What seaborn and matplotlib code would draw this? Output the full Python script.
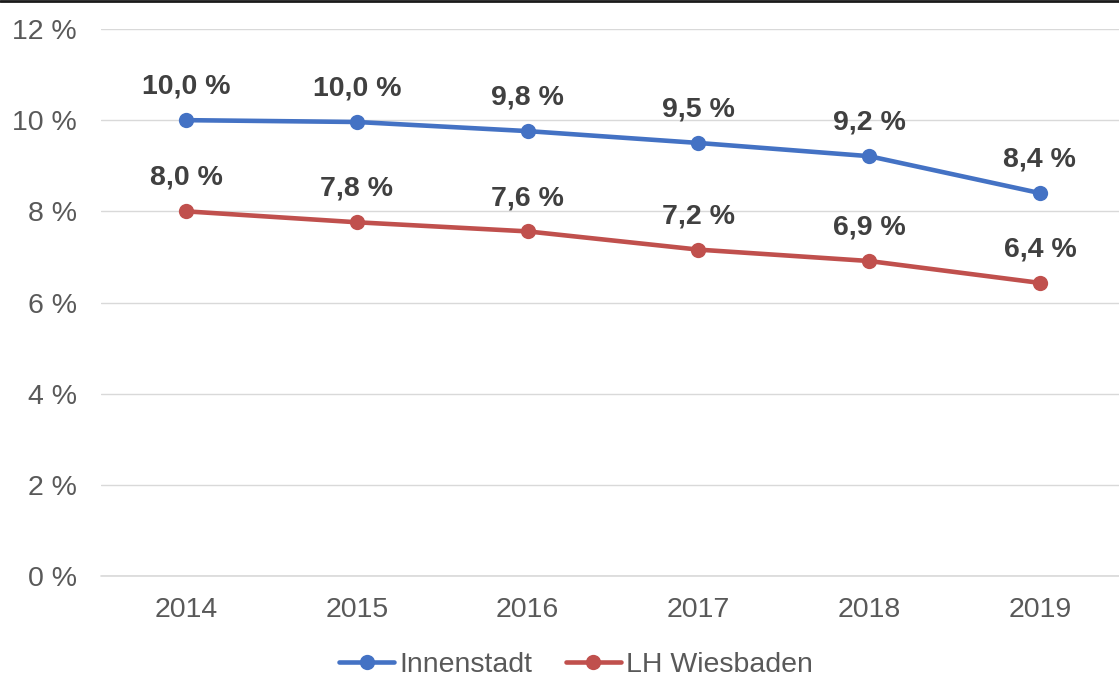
import pandas as pd
import seaborn as sns
import matplotlib.pyplot as plt
from matplotlib.lines import Line2D

# Data
years = ["2014", "2015", "2016", "2017", "2018", "2019"]
innenstadt = [10.0, 9.96, 9.76, 9.5, 9.21, 8.4]
wiesbaden = [8.0, 7.76, 7.56, 7.16, 6.91, 6.43]
series_names = ["Innenstadt", "LH Wiesbaden"]
y_ticks = [0, 2, 4, 6, 8, 10, 12]

df = pd.DataFrame({
    "Jahr": years * 2,
    "Wert": innenstadt + wiesbaden,
    "Serie": [series_names[0]] * len(years) + [series_names[1]] * len(years),
})

sns.set_theme(style="white")
plt.rcParams['font.family'] = ['Liberation Sans', 'DejaVu Sans']

colors = {"Innenstadt": "#4472C4", "LH Wiesbaden": "#C0504D"}

fig = plt.figure(figsize=(11.19, 6.82), dpi=100)
ax = fig.add_axes([0.0899, 0.1554, 0.9101, 0.8021])

sns.lineplot(data=df, x="Jahr", y="Wert", hue="Serie", palette=colors,
             marker="o", markersize=11, markeredgewidth=0, linewidth=3.3,
             ax=ax, legend=False)

# data labels
for name, vals in zip(series_names, [innenstadt, wiesbaden]):
    for i, v in enumerate(vals):
        ax.annotate(f"{v:.1f} %".replace(".", ","), (i, v),
                    xytext=(0, 24), textcoords="offset points",
                    ha="center", va="center", fontsize=20.5,
                    fontweight="bold", color="#404040")

ax.set_xlim(-0.5, 5.463)
ax.set_ylim(0, 12)
ax.set_yticks(y_ticks)
ax.set_yticklabels([f"{t} %" for t in y_ticks])
ax.grid(axis="y", color="#d9d9d9", linewidth=1)
ax.axhline(0, color="#d9d9d9", linewidth=1.2, clip_on=False, zorder=0)
ax.set_axisbelow(True)
for s in ax.spines.values():
    s.set_visible(False)
ax.tick_params(axis="both", length=0, labelsize=20.5, labelcolor="#595959")
ax.tick_params(axis="y", pad=17)
ax.tick_params(axis="x", pad=15)
ax.set_xlabel("")
ax.set_ylabel("")

handles = [Line2D([0], [0], color=colors[n], linewidth=3.3, marker="o",
                  markersize=11, markeredgewidth=0) for n in series_names]
fig.legend(handles, series_names, loc="center", bbox_to_anchor=(0.515, 0.025),
           ncol=2, frameon=False, fontsize=20.5, labelcolor="#595959",
           handlelength=1.9, handletextpad=0.2, columnspacing=1.2,
           borderpad=0)

# thin dark border at the top of the image
fig.add_artist(Line2D([0, 1], [0.9985, 0.9985], color="#1a1a1a", linewidth=2,
                      transform=fig.transFigure))

fig.savefig("out.png", dpi=100)
